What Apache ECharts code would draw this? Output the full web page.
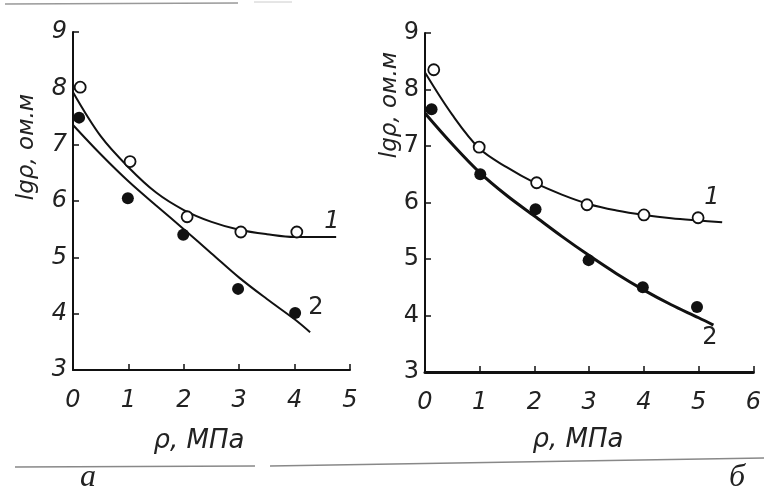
<!DOCTYPE html>
<html>
<head>
<meta charset="utf-8">
<script src="https://cdn.jsdelivr.net/npm/echarts@6/dist/echarts.min.js"></script>
<style>
html,body{margin:0;padding:0;background:#fff;}
#chart{width:764px;height:495px;}
</style>
</head>
<body>
<div id="chart"></div>
<script>
// ---- data ----
const xTicksA = [0, 1, 2, 3, 4, 5];
const xTicksB = [0, 1, 2, 3, 4, 5, 6];
const yTicks = [3, 4, 5, 6, 7, 8, 9];

// panel a – measured points
const pointsA1 = [[0.13, 8.02], [1.03, 6.70], [2.06, 5.72], [3.03, 5.45], [4.04, 5.45]]; // open circles
const pointsA2 = [[0.11, 7.48], [0.99, 6.05], [1.99, 5.40], [2.98, 4.44], [4.01, 4.01]]; // filled
// panel a – drawn curves
const curveA1 = [[0, 7.93], [0.5, 7.15], [1, 6.60], [1.5, 6.15], [2, 5.84], [2.5, 5.63], [3, 5.49], [3.5, 5.41], [4, 5.36], [4.75, 5.36]];
const curveA2 = [[0, 7.35], [0.5, 6.83], [1, 6.35], [1.5, 5.92], [2, 5.50], [2.5, 5.07], [3, 4.64], [3.5, 4.26], [4, 3.90], [4.28, 3.67]];

// panel b – measured points
const pointsB1 = [[0.16, 8.35], [0.99, 6.98], [2.04, 6.35], [2.96, 5.96], [4.00, 5.78], [4.99, 5.73]];
const pointsB2 = [[0.12, 7.65], [1.01, 6.50], [2.02, 5.88], [2.99, 4.98], [3.98, 4.50], [4.97, 4.15]];
// panel b – drawn curves
const curveB1 = [[0, 8.30], [0.5, 7.55], [1, 6.95], [1.5, 6.62], [2, 6.35], [2.5, 6.14], [3, 5.97], [3.5, 5.86], [4, 5.78], [4.5, 5.72], [5, 5.68], [5.43, 5.65]];
const curveB2 = [[0, 7.58], [0.5, 7.03], [1, 6.53], [1.5, 6.12], [2, 5.76], [2.5, 5.40], [3, 5.06], [3.5, 4.74], [4, 4.45], [4.5, 4.19], [5, 3.96], [5.27, 3.83]];

const yName = 'lgρ, ом.м';
const xName = 'ρ, МПа';
const panelLabels = ['а', 'б'];

// ---- chart ----
const ink = '#111';
const chart = echarts.init(document.getElementById('chart'), null, {renderer: 'canvas'});

function xAxis(gi, ticks, italic) {
  return {
    gridIndex: gi, type: 'value', min: ticks[0], max: ticks[ticks.length - 1], interval: 1,
    axisLine: {show: true, lineStyle: {color: ink, width: gi === 1 ? 3 : 2}},
    axisTick: {show: true, inside: true, length: 6, lineStyle: {color: ink, width: 1.5}},
    axisLabel: {margin: 19, fontSize: 24, fontStyle: italic ? 'italic' : 'normal', color: '#222', fontFamily: 'DejaVu Sans'},
    splitLine: {show: false}
  };
}
function yAxis(gi, italic) {
  return {
    gridIndex: gi, type: 'value', min: yTicks[0], max: yTicks[yTicks.length - 1], interval: 1,
    axisLine: {show: true, lineStyle: {color: ink, width: 2}},
    axisTick: {show: true, inside: true, length: 6, lineStyle: {color: ink, width: 1.5}},
    axisLabel: {margin: 6, fontSize: 24, fontStyle: italic ? 'italic' : 'normal', color: '#222', fontFamily: 'DejaVu Sans'},
    splitLine: {show: false}
  };
}
function curve(xi, data, w) {
  return {type: 'line', xAxisIndex: xi, yAxisIndex: xi, data: data, smooth: 0.35, showSymbol: false,
          lineStyle: {color: ink, width: w, opacity: 1}, z: 2, silent: true};
}
function pts(xi, data, open) {
  return {type: 'scatter', xAxisIndex: xi, yAxisIndex: xi, data: data, symbol: 'circle',
          symbolSize: open ? 11 : 12,
          itemStyle: open ? {color: '#fff', borderColor: ink, borderWidth: 1.8, opacity: 1} : {color: ink, opacity: 1},
          z: 3, silent: true};
}
function txt(x, y, s, size, opts) {
  opts = opts || {};
  return {type: 'text', x: x, y: y, rotation: opts.rot || 0, z: 10,
          style: {text: s, fontSize: size, fontStyle: opts.italic === false ? 'normal' : 'italic',
                  fontFamily: opts.family || 'DejaVu Sans', fill: opts.fill || '#222',
                  textAlign: 'center', textVerticalAlign: 'middle'}};
}
function hline(x1, y1, x2, y2, color, w) {
  return {type: 'line', shape: {x1: x1, y1: y1, x2: x2, y2: y2}, style: {stroke: color, lineWidth: w}, z: 1};
}

chart.setOption({
  backgroundColor: '#fff',
  animation: false,
  grid: [
    {left: 73, top: 32, width: 277, height: 338},
    {left: 425, top: 33, width: 339, height: 339}
  ],
  xAxis: [xAxis(0, xTicksA, true), xAxis(1, xTicksB, true)],
  yAxis: [yAxis(0, true), yAxis(1, false)],
  series: [
    curve(0, curveA1, 2), curve(0, curveA2, 2),
    curve(1, curveB1, 2), curve(1, curveB2, 3),
    pts(0, pointsA1, true), pts(0, pointsA2, false),
    pts(1, pointsB1, true), pts(1, pointsB2, false)
  ],
  graphic: [
    txt(27, 147, yName, 23, {rot: Math.PI / 2}),
    txt(390, 105, yName, 23, {rot: Math.PI / 2}),
    txt(199, 441, xName, 26),
    txt(578, 440, xName, 26),
    txt(332, 222, '1', 24),
    txt(316, 308, '2', 24, {italic: false}),
    txt(712, 198, '1', 24),
    txt(710, 338, '2', 24, {italic: false}),
    txt(88, 478, panelLabels[0], 32, {family: 'Liberation Serif'}),
    txt(737, 478, panelLabels[1], 32, {family: 'Liberation Serif'}),
    hline(15, 467, 255, 466, '#888', 1.5),
    hline(270, 466, 764, 458, '#888', 1.5),
    hline(5, 4, 238, 3, '#999', 1.5),
    hline(254, 2, 292, 2, '#ccc', 1)
  ]
});
</script>
</body>
</html>
